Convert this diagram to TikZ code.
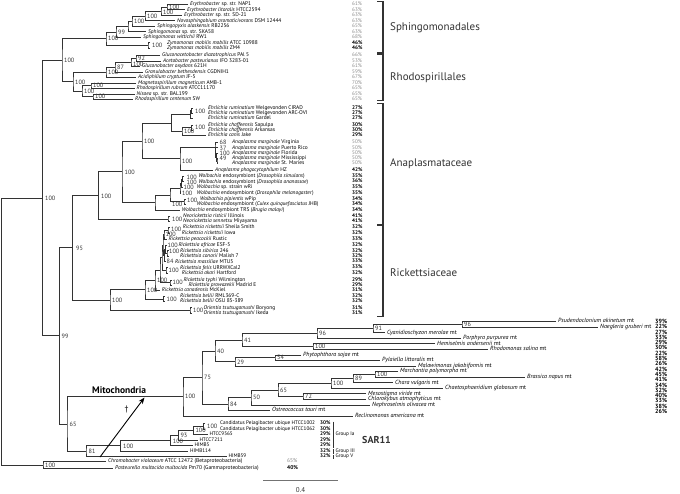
\documentclass[tikz,border=0pt]{standalone}
\usepackage{fontspec}
\setmainfont{PT Sans}
\usetikzlibrary{calc,arrows.meta}
\definecolor{ln}{HTML}{333333}
\definecolor{lt}{HTML}{8A8A8A}
\newcommand\clade[4]{\path let \p1=($(#3)!.5!(#4)$) in coordinate (#1) at (#2pt,\y1);\draw[br] (#3) -| (#1) |- (#4);}
\newcommand\tleaf[5]{\coordinate (#1) at (#2,#3);\node[lf] (#1t) at (#4,#3) {#5};}
\newcommand\sleaf[5]{\coordinate (#1) at (#2,#3);\node[slf] (#1t) at (#4,#3) {#5};}
\newcommand\mleaf[5]{\coordinate (#1) at (#2,#3);\node[mtl] (#1t) at (#4,#3) {#5};}
\newcommand\bsv[4]{\node[bsl] (#1) at (#2,#3) {#4};}
\begin{document}
\begin{tikzpicture}[x=1pt,y=-1pt,
  br/.style={line width=0.7pt,draw=ln},
  lf/.style={anchor=west,inner sep=0pt,font=\fontsize{5.4}{6.2}\selectfont,text height=3.75pt,text depth=1.15pt},
  slf/.style={anchor=west,inner sep=0pt,font=\fontsize{5.2}{6}\selectfont,text height=3.6pt,text depth=1.1pt},
  mtl/.style={anchor=west,inner sep=0pt,font=\fontsize{6}{7}\selectfont,text height=4.2pt,text depth=1.3pt},
  bsl/.style={anchor=west,inner sep=0pt,font=\fontsize{6.2}{7}\selectfont,text=ln,text height=4.4pt,text depth=0pt},
  pl/.style={slf,text=lt},
  pb/.style={slf,font=\fontsize{5.2}{6}\selectfont\bfseries},
  pm/.style={anchor=west,inner sep=0pt,font=\fontsize{6}{7}\selectfont\bfseries,text height=4.2pt,text depth=0pt},
  cbr/.style={line width=1.2pt,draw=ln},
  clab/.style={anchor=west,inner sep=0pt,font=\fontsize{11}{13}\selectfont,text=ln},
  ]
\fill[white] (0,0) rectangle (680,493);
\useasboundingbox (0,0) rectangle (680,493);

% ---------------- Sphingomonadales
\tleaf{s1}{188}{4.3}{190}{\textit{Erythrobacter} sp. str. NAP1}
\tleaf{s2}{185}{9.8}{187}{\textit{Erythrobacter litoralis} HTCC2594}
\tleaf{s3}{182}{15.3}{184}{\textit{Erythrobacter} sp. str. SD-21}
\tleaf{s4}{175}{20.8}{177}{\textit{Novosphingobium aromaticivorans} DSM 12444}
\tleaf{s5}{155}{26.3}{157}{\textit{Sphingopyxis alaskensis} RB2256}
\tleaf{s6}{146}{31.8}{148}{\textit{Sphingomonas} sp. str. SKA58}
\tleaf{s7}{141}{37.3}{143}{\textit{Sphingomonas wittichii} RW1}
\tleaf{s8}{150}{42.8}{167}{\textit{Zymomonas mobilis mobilis} ATCC 10988}
\tleaf{s9}{150}{48.3}{167}{\textit{Zymomonas mobilis mobilis} ZM4}
\clade{nA}{167}{s1}{s2}
\clade{nB}{161}{nA}{s3}
\clade{nC}{145}{nB}{s4}
\clade{nD}{132}{nC}{s5}
\clade{nE}{128}{nD}{s6}
\clade{nS1}{116}{nE}{s7}
\clade{nZ}{148}{s8}{s9}
\clade{nS0}{106}{nS1}{nZ}

% ---------------- Rhodospirillales
\tleaf{r1}{160}{55.5}{162}{\textit{Gluconacetobacter diazotrophicus} PAl 5}
\tleaf{r2}{161}{61}{163}{\textit{Acetobacter pasteurianus} IFO 3283-01}
\tleaf{r3}{140}{66.5}{142}{\textit{Gluconobacter oxydans} 621H}
\tleaf{r4}{143}{72}{145}{\textit{Granulobacter bethesdensis} CGDNIH1}
\tleaf{r5}{136}{77.5}{138}{\textit{Acidiphilium cryptum} JF-5}
\tleaf{r6}{136}{83}{138}{\textit{Magnetospirillum magneticum} AMB-1}
\tleaf{r7}{135}{88.5}{136.5}{\textit{Rhodospirillum rubrum} ATCC11170}
\tleaf{r8}{135}{94}{136.5}{\textit{Nisaea} sp. str. BAL199}
\tleaf{r9}{133}{99.5}{135}{\textit{Rhodospirillum centenum} SW}
\clade{nG1}{136}{r1}{r2}
\clade{nG2}{131}{nG1}{r3}
\clade{nG3}{115}{nG2}{r4}
\clade{nG4}{106}{nG3}{r5}
\clade{nMg}{91}{r6}{r7}
\clade{nNR}{93}{r8}{r9}
\clade{nR1}{82}{nMg}{nNR}
\clade{nR0}{73}{nG4}{nR1}
\clade{nSR}{62}{nS0}{nR0}

% ---------------- Anaplasmataceae
\tleaf{a1}{192.5}{108.3}{208}{\textit{Ehrlichia ruminatium} Welgevonden CIRAD}
\tleaf{a2}{192.5}{113.3}{208}{\textit{Ehrlichia ruminatium} Welgevonden ARC-OVI}
\tleaf{a3}{192.5}{118.3}{208}{\textit{Ehrlichia ruminatium} Gardel}
\tleaf{a4}{193}{125}{208}{\textit{Ehrlichia chaffeensis} Sapulpa}
\tleaf{a5}{193}{130.2}{208}{\textit{Ehrlichia chaffeensis} Arkansas}
\tleaf{a6}{206}{135.4}{208}{\textit{Ehrlichia canis} Jake}
\clade{nEr1}{191.5}{a1}{a2}
\clade{nEr}{190.5}{nEr1}{a3}
\clade{nEch}{191.5}{a4}{a5}
\clade{nEc}{182}{nEch}{a6}
\clade{nEhr}{171.7}{nEr}{nEc}
\tleaf{a7}{218}{142.5}{232}{\textit{Anaplasma marginale} Virginia}
\tleaf{a8}{218}{147.8}{232}{\textit{Anaplasma marginale} Puerto Rico}
\tleaf{a9}{218}{153}{232}{\textit{Anaplasma marginale} Florida}
\tleaf{a10}{218}{158.3}{232}{\textit{Anaplasma marginale} Mississippi}
\tleaf{a11}{218}{163.5}{232}{\textit{Anaplasma marginale} St. Maries}
\tleaf{a12}{213}{170}{215}{\textit{Anaplasma phagocytophilum} HZ}
\clade{nAm4}{217}{a10}{a11}
\clade{nAm3}{216.3}{a9}{nAm4}
\clade{nAm2}{215.6}{a8}{nAm3}
\clade{nAm1}{215}{a7}{nAm2}
\clade{nAna}{180}{nAm1}{a12}
\clade{nEA}{142}{nEhr}{nAna}
\tleaf{w1}{184}{176.3}{198.3}{\textit{Wolbachia} endosymbiont (\textit{Drosophila simulans})}
\tleaf{w2}{184}{181.7}{198.3}{\textit{Wolbachia} endosymbiont (\textit{Drosophila ananassae})}
\tleaf{w3}{182}{187.3}{196.7}{\textit{Wolbachia} sp. strain wRi}
\tleaf{w4}{181}{193}{196.7}{\textit{Wolbachia} endosymbiont (\textit{Drosophila melanogaster})}
\tleaf{w5}{185.5}{199}{200}{\textit{Wolbachia pipientis} wPip}
\tleaf{w6}{185.5}{204.3}{196.7}{\textit{Wolbachia} endosymbiont (\textit{Culex quinquefasciatus} JHB)}
\tleaf{w7}{180}{210}{181.7}{\textit{Wolbachia} endosymbiont TRS (\textit{Brugia malayi})}
\clade{nW1}{182.5}{w1}{w2}
\clade{nW2}{181.5}{nW1}{w3}
\clade{nW3}{180}{nW2}{w4}
\clade{nW5}{184}{w5}{w6}
\clade{nW6}{170}{nW3}{nW5}
\clade{nWol}{155}{nW6}{w7}
\clade{nAN1}{122}{nEA}{nWol}
\tleaf{n1}{170}{216.3}{183}{\textit{Neorickettsia risticii} Illinois}
\tleaf{n2}{170}{221.5}{183}{\textit{Neorickettsia sennetsu} Miyayama}
\clade{nNeo}{168}{n1}{n2}
\clade{nAN0}{98.3}{nAN1}{nNeo}

% ---------------- Rickettsiaceae
\tleaf{k1}{170}{227.5}{182.7}{\textit{Rickettsia rickettsii} Sheila Smith}
\tleaf{k2}{170}{233}{181.7}{\textit{Rickettsia rickettsii} Iowa}
\tleaf{k3}{167}{239}{168.5}{\textit{Rickettsia peacockii} Rustic}
\tleaf{k4}{167}{245}{178.3}{\textit{Rickettsia africae} ESF-5}
\tleaf{k5}{168.5}{250.8}{180}{\textit{Rickettsia sibirica} 246}
\tleaf{k6}{168.5}{256}{180}{\textit{Rickettsia conorii} Malish 7}
\tleaf{k7}{166}{261.7}{175}{\textit{Rickettsia massiliae} MTU5}
\tleaf{k8}{167.5}{267.7}{180}{\textit{Rickettsia felis} URRWXCal2}
\tleaf{k9}{167.5}{273.3}{181.7}{\textit{Rickettsia akari} Hartford}
\tleaf{k10}{171.5}{280}{183.3}{\textit{Rickettsia typhi} Wilmington}
\tleaf{k11}{171.5}{285}{188.3}{\textit{Rickettsia prowazekii} Madrid E}
\tleaf{k12}{160}{290.5}{161.7}{\textit{Rickettsia canadensis} McKiel}
\tleaf{k13}{165}{296.3}{180}{\textit{Rickettsia bellii} RML369-C}
\tleaf{k14}{165}{301.5}{180}{\textit{Rickettsia bellii} OSU 85-389}
\tleaf{k15}{191.5}{307.8}{203.3}{\textit{Orientia tsutsugamushi} Boryong}
\tleaf{k16}{191.5}{313}{203.3}{\textit{Orientia tsutsugamushi} Ikeda}
\clade{nRr}{168}{k1}{k2}
\clade{nRp}{164}{nRr}{k3}
\clade{nRs}{167}{k5}{k6}
\clade{nRa}{165.5}{k4}{nRs}
\clade{nRm}{164.5}{nRa}{k7}
\clade{nSF1}{163}{nRp}{nRm}
\clade{nRf}{166}{k8}{k9}
\clade{nSFG}{162}{nSF1}{nRf}
\clade{nRt}{170}{k10}{k11}
\clade{nX1}{160}{nSFG}{nRt}
\clade{nRk1}{155}{nX1}{k12}
\clade{nBel}{163.5}{k13}{k14}
\clade{nRk}{145}{nRk1}{nBel}
\clade{nOri}{190}{k15}{k16}
\clade{nRK0}{110}{nRk}{nOri}
\clade{nRL}{72.7}{nAN0}{nRK0}

% ---------------- Mitochondria
\mleaf{m1}{556}{321.5}{558}{\textit{Psudendoclonium akinetum} mt}
\mleaf{m2}{598}{327.1}{600}{\textit{Naegleria gruberi} mt}
\mleaf{m3}{385}{332.6}{387}{\textit{Cyanidioschyzon merolae} mt}
\mleaf{m4}{461}{338.2}{463}{\textit{Porphyra purpurea} mt}
\mleaf{m5}{435}{343.7}{437}{\textit{Hemiselmis andersenii} mt}
\mleaf{m6}{488}{349.3}{490}{\textit{Rhodomonas salina} mt}
\mleaf{m7}{301}{354.9}{303}{\textit{Phytophthora sojae} mt}
\mleaf{m8}{380}{360.4}{382}{\textit{Pylaiella littoralis} mt}
\mleaf{m9}{416}{366}{418}{\textit{Malawimonas jakobiformis} mt}
\mleaf{m10}{398}{371.5}{400}{\textit{Marchantia polymorpha} mt}
\mleaf{m11}{525}{377.1}{527}{\textit{Brassica napus} mt}
\mleaf{m12}{393}{382.7}{395}{\textit{Chara vulgaris} mt}
\mleaf{m13}{443}{388.2}{445}{\textit{Chaetosphaeridium globosum} mt}
\mleaf{m14}{366}{393.8}{368}{\textit{Mesostigma viride} mt}
\mleaf{m15}{366}{399.3}{368}{\textit{Chlorokybus atmophyticus} mt}
\mleaf{m16}{370}{404.9}{372}{\textit{Nephroselmis olivacea} mt}
\mleaf{m17}{270}{410.5}{272}{\textit{Ostreococcus tauri} mt}
\mleaf{m18}{353}{416}{355}{\textit{Reclinomonas americana} mt}
\clade{mqa}{462}{m1}{m2}
\clade{mqb}{373}{mqa}{m3}
\clade{mqc}{317}{mqb}{m4}
\clade{mqd}{313}{m5}{m6}
\clade{mqe}{242}{mqc}{mqd}
\clade{mqf}{275}{m7}{m8}
\clade{mqg}{235}{mqf}{m9}
\clade{mqh}{215}{mqe}{mqg}
\clade{mqi}{375}{m10}{m11}
\clade{mqj}{353}{mqi}{m12}
\clade{mqk}{331}{mqj}{m13}
\clade{mql}{303}{m14}{m15}
\clade{mqm}{278}{mqk}{mql}
\clade{mqn}{251}{mqm}{m16}
\clade{mqo}{228}{mqn}{m17}
\clade{mqp}{202}{mqh}{mqo}
\clade{mqr}{183}{mqp}{m18}

% ---------------- SAR11
\sleaf{sa1}{205}{423.5}{220}{Candidatus Pelagibacter ubique HTCC1002}
\sleaf{sa2}{205}{429}{220}{Candidatus Pelagibacter ubique HTCC1062}
\sleaf{sa3}{207.5}{434.5}{209.3}{HTCC9565}
\sleaf{sa4}{197.5}{440}{199.3}{HTCC7211}
\sleaf{sa5}{192.5}{445.5}{194.3}{HIMB5}
\sleaf{sa6}{188}{451}{190}{HIMB114}
\sleaf{sa7}{226.5}{456.5}{228.3}{HIMB59}
\clade{nSa1}{203.3}{sa1}{sa2}
\clade{nSa2}{193.3}{nSa1}{sa3}
\clade{nSa3}{178.3}{nSa2}{sa4}
\clade{nSa4}{170.7}{nSa3}{sa5}
\clade{nSa5}{120.7}{nSa4}{sa6}
\clade{nSa6}{86}{nSa5}{sa7}
\clade{nMS}{67}{mqr}{nSa6}
\clade{nN2}{59.3}{nRL}{nMS}
\clade{nN1}{42.5}{nSR}{nN2}

% ---------------- outgroup and root
\node[lf,font=\fontsize{5.5}{6.5}\selectfont] (o1t) at (108,461.5) {\textit{Chromobacter violaceum} ATCC 12472 (Betaproteobacteria)};
\coordinate (o1) at (106,461.5);
\node[lf,font=\fontsize{5.5}{6.5}\selectfont] (o2t) at (115,468.5) {\textit{Pasteurella multocida multocida} Pm70 (Gammaproteobacteria)};
\coordinate (o2) at (113,468.5);
\clade{nOut}{43}{o1}{o2}
\clade{nRoot}{1.7}{nN1}{nOut}

% ---------------- bootstrap values
\bsv{bA}{169}{7.05}{100}
\bsv{bB}{163}{12.3}{100}
\bsv{bC}{147}{16}{100}
\bsv{bD}{134}{21.2}{100}
\bsv{bS1}{118}{32}{99}
\bsv{bS0}{108}{38.7}{100}
\bsv{bZ}{152}{45.5}{100}
\bsv{bG1}{138}{58.25}{92}
\bsv{bG2}{133}{63.8}{100}
\bsv{bG3}{117}{67.2}{87}
\bsv{bG4}{108}{72.4}{100}
\bsv{bMg}{93}{85.75}{100}
\bsv{bNR}{95}{96.75}{100}
\bsv{bR1}{84}{91.25}{100}
\bsv{bR0}{75}{81.8}{100}
\bsv{bSR}{64}{60.3}{100}
\bsv{bEr}{195}{111}{100}
\bsv{bEch}{195}{127.6}{100}
\bsv{bEc}{184}{131.5}{100}
\bsv{bAm1}{219.5}{142.5}{68}
\bsv{bAm2}{219.5}{147.8}{37}
\bsv{bAm3}{219.5}{153}{100}
\bsv{bAm4}{219.5}{158.3}{49}
\bsv{bAna}{182}{161}{100}
\bsv{bEA}{144}{141.5}{100}
\bsv{bW1}{186.5}{177.3}{100}
\bsv{bW2}{186.5}{182.3}{100}
\bsv{bW3}{183.5}{187.6}{100}
\bsv{bW4}{182}{193.2}{100}
\bsv{bW5}{187}{200}{100}
\bsv{bW6}{172}{204}{100}
\bsv{bNeo}{172}{218.9}{100}
\bsv{bAN1}{124.5}{172.7}{100}
\bsv{bAN0}{101}{196}{100}
\bsv{bRr}{171}{229.4}{100}
\bsv{bRp}{165.5}{234}{100}
\bsv{bRa}{167.5}{245}{100}
\bsv{bRs}{169}{250.8}{100}
\bsv{bRm}{166.5}{261.7}{84}
\bsv{bRf}{168.5}{270.5}{100}
\bsv{bRk1}{157}{280.3}{100}
\bsv{bRt}{172.5}{282.5}{100}
\bsv{bRk}{147}{289.8}{100}
\bsv{bBel}{166.5}{298.9}{100}
\bsv{bRK0}{112}{300}{100}
\bsv{bOri}{193}{310.4}{100}
\bsv{bRL}{76}{248.5}{95}
\bsv{bm1}{464}{324.3}{96}
\bsv{bm2}{375}{328.4}{91}
\bsv{bm3}{319}{333.2}{96}
\bsv{bm4}{315}{346.5}{100}
\bsv{bm5}{244}{339.9}{41}
\bsv{bm6}{277}{357.6}{54}
\bsv{bm7}{237}{361.8}{29}
\bsv{bm8}{217}{350.8}{40}
\bsv{bm9}{377}{374.3}{100}
\bsv{bm10}{355}{378.6}{89}
\bsv{bm11}{333}{383.4}{100}
\bsv{bm12}{305}{396.5}{72}
\bsv{bm13}{280}{390}{65}
\bsv{bm14}{253}{397.4}{50}
\bsv{bm15}{230}{404}{84}
\bsv{bm16}{204}{377.4}{75}
\bsv{bm17}{185}{396.7}{100}
\bsv{bsa1}{207}{426.25}{100}
\bsv{bsa2}{195.3}{430.6}{100}
\bsv{bsa3}{180.3}{435.4}{93}
\bsv{bsa4}{172.7}{441.5}{100}
\bsv{bsa5}{123}{446}{100}
\bsv{bsa6}{88.5}{451.5}{81}
\bsv{bMS}{69.5}{424.5}{65}
\bsv{bN2}{61.5}{335.8}{99}
\bsv{bN1}{45}{198}{100}
\bsv{bOut}{45}{465}{100}

% ---------------- percentages
\foreach \yy/\vv/\ss [count=\i] in {4.3/61/pl,9.8/63/pl,15.3/63/pl,20.8/63/pl,26.3/65/pl,31.8/63/pl,37.3/68/pl,42.8/46/pb,48.3/46/pb,55.5/66/pl,61/53/pl,66.5/61/pl,72/59/pl,77.5/67/pl,83/70/pl,88.5/65/pl,94/65/pl,99.5/65/pl,108.3/27/pb,113.3/27/pb,118.3/27/pb,125/30/pb,130.2/30/pb,135.4/29/pb,142.5/50/pl,147.8/50/pl,153/50/pl,158.3/50/pl,163.5/50/pl,170/42/pb,176.3/35/pb,181.7/36/pb,187.3/35/pb,193/35/pb,199/34/pb,204.3/34/pb,210/34/pb,216.3/41/pb,221.5/41/pb,227.5/32/pb,233/32/pb,239/33/pb,245/32/pb,250.8/32/pb,256/32/pb,261.7/33/pb,267.7/33/pb,273.3/32/pb,280/29/pb,285/29/pb,290.5/31/pb,296.3/32/pb,301.5/32/pb,307.8/31/pb,313/31/pb}
  \node[\ss] (pu\i) at (352,\yy) {\vv\%};
\foreach \vv [count=\i from 0] in {39,22,27,33,29,30,22,58,26,42,45,41,34,32,40,33,38,26}
  \node[pm] (pmt\i) at (655,{321.3+5.3*\i}) {\vv\%};
\foreach \yy/\vv [count=\i] in {423.5/30,429/30,434.5/29,440/29,445.5/29,451/32,456.5/32}
  \node[pb] (psa\i) at (320,\yy) {\vv\%};
\node[pl,font=\fontsize{5.5}{6.5}\selectfont] (po1) at (287,461.5) {65\%};
\node[pb,font=\fontsize{5.5}{6.5}\selectfont\bfseries] (po2) at (287,468.5) {40\%};

% ---------------- clade brackets and labels
\draw[cbr] (377,1.5) -- (383,1.5) -- (383,52.8) -- (377,52.8);
\draw[cbr] (377,54) -- (383,54) -- (383,100.7) -- (377,100.7);
\draw[cbr] (377,103.3) -- (383,103.3) -- (383,224.5) -- (377,224.5);
\draw[cbr] (377,225.8) -- (383,225.8) -- (383,316.5) -- (377,316.5);
\node[clab] (c1) at (390,27.5) {Sphingomonadales};
\node[clab] (c2) at (390,78) {Rhodospirillales};
\node[clab] (c3) at (390,164) {Anaplasmataceae};
\node[clab] (c4) at (390,272.5) {Rickettsiaceae};

\draw[br,line width=0.5pt] (333,421.5) -- (333,447.5);
\node[slf] (gIa) at (335.5,434.5) {Group Ia};
\draw[br,line width=0.5pt] (333,448.8) -- (333,453.5);
\node[slf] (gIII) at (335.5,451) {Group III};
\draw[br,line width=0.5pt] (333,454.5) -- (333,459);
\node[slf] (gV) at (335.5,456.5) {Group V};
\node[anchor=west,inner sep=0pt,font=\fontsize{10}{12}\selectfont\bfseries,text=ln] (sar) at (362,440) {SAR11};

\node[anchor=west,inner sep=0pt,font=\fontsize{9.5}{11}\selectfont\bfseries] (mito) at (92,390.5) {Mitochondria};
\coordinate (arS) at (100,457);
\coordinate (arE) at (144.5,397.5);
\draw[line width=0.9pt,-{Stealth[length=6.5pt,width=5pt]}] (arS) -- (arE);
\node[inner sep=0pt,font=\fontsize{8}{9}\selectfont] (dag) at (126.5,409.5) {\textdagger};

\coordinate (sbL) at (263,480.5);
\coordinate (sbR) at (338,480.5);
\draw[line width=1.6pt,draw=black!55] (sbL) -- (sbR);
\node[inner sep=0pt,font=\fontsize{7}{8}\selectfont,text=ln] (sbt) at (300.5,490) {0.4};
\end{tikzpicture}
\end{document}
